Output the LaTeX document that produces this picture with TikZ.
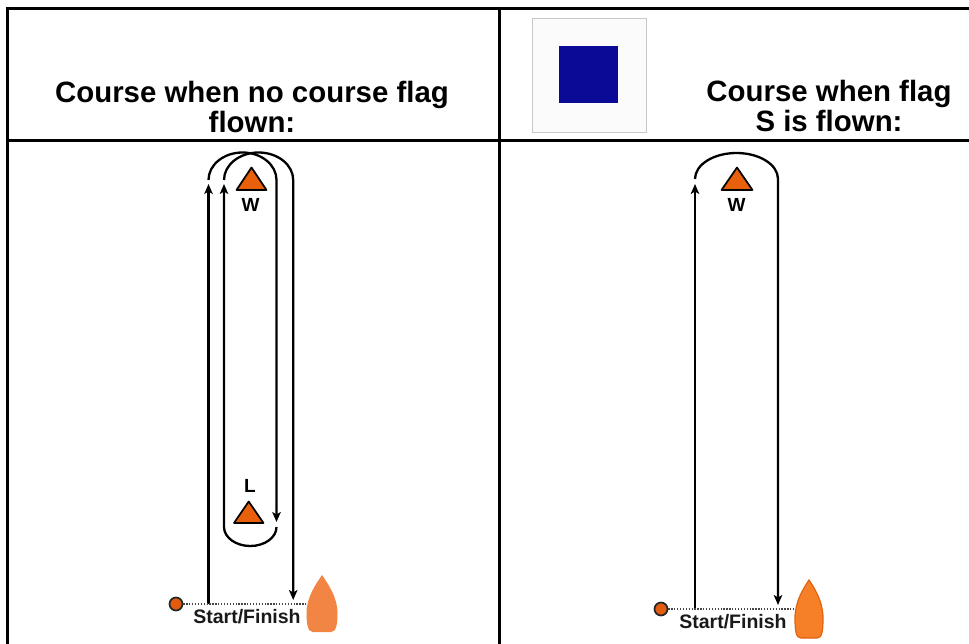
\documentclass[tikz,border=0pt]{standalone}
\usepackage{fontspec}
\setmainfont{Liberation Sans}
\usetikzlibrary{arrows.meta}
\definecolor{markor}{RGB}{232,96,12}
\definecolor{boatA}{RGB}{242,132,68}
\definecolor{boatB}{RGB}{246,128,40}
\definecolor{boatBline}{RGB}{226,98,14}
\definecolor{pinor}{RGB}{226,92,16}
\definecolor{flagblue}{RGB}{10,10,150}
\definecolor{flagbg}{RGB}{251,251,251}
\definecolor{flagedge}{RGB}{200,200,200}
\definecolor{dotgray}{RGB}{70,70,70}
\begin{document}
\begin{tikzpicture}[x=1pt,y=-1pt,
  frame/.style={line width=3pt,black},
  course/.style={line width=2.3pt,black},
  arr/.style={-{Stealth[length=10pt,width=8.5pt,inset=2.5pt]}},
  markstyle/.style={fill=markor,draw=black,line width=1.7pt,line join=round},
  pin/.style={circle,fill=pinor,draw=black!85,line width=1.7pt,minimum size=13pt,inner sep=0pt},
  startline/.style={dotgray,line width=1.5pt,dash pattern=on 1.3pt off 1.6pt},
  head/.style={font=\bfseries\fontsize{29.4}{30}\selectfont,anchor=base,inner sep=0pt},
  marklabel/.style={font=\bfseries\fontsize{19}{19}\selectfont,anchor=base,inner sep=0pt},
  sflabel/.style={font=\bfseries\fontsize{19.5}{19.5}\selectfont,anchor=base,inner sep=0pt,text=black!90}]
\useasboundingbox (0,0) rectangle (969,644);
% table frame
\draw[frame] (5.5,9) -- (969,9);
\draw[frame] (7,9) -- (7,644);
\draw[frame] (7,141) -- (969,141);
\draw[frame] (499,9) -- (499,644);
% headers
\node[head] (h1) at (252,102.5) {Course when no course flag};
\node[head] (h2) at (252,132.5) {flown:};
\node[head] (h3) at (829,101.5) {Course when flag};
\node[head] (h4) at (829,131.5) {S is flown:};
% flag S
\draw[fill=flagbg,draw=flagedge,line width=0.8pt] (532,18) rectangle (646,132);
\fill[flagblue] (559,46) rectangle (618,103);
% ---------- left course ----------
\coordinate (sA) at (208.5,604);
\coordinate (tA) at (208.5,184);
\draw[course,arr] (sA) -- (tA);
\draw[course,arr] (208.5,180) .. controls (208.5,164.8) and (223.7,152.5) .. (242.5,152.5)
   .. controls (261.3,152.5) and (276.5,164.8) .. (276.5,180) -- (276.5,522);
\draw[course,arr] (276.5,527) .. controls (276.5,537.5) and (264.7,546) .. (250.3,546)
   .. controls (235.8,546) and (224,537.5) .. (224,527) -- (224,184);
\draw[course,arr] (224,180) .. controls (224,164.8) and (239.5,152.5) .. (258.6,152.5)
   .. controls (277.7,152.5) and (293.2,164.8) .. (293.2,180) -- (293.2,600);
% marks
\draw[markstyle] (251.5,167.5) -- (266.5,190) -- (236.5,190) -- cycle;
\node[marklabel] (wl) at (250.5,212) {W};
\draw[markstyle] (248.7,501.5) -- (263.5,523) -- (234,523) -- cycle;
\node[marklabel] (ll) at (250,492.5) {L};
% start line
\node[pin] (pinA) at (176,604) {};
\coordinate (boatAend) at (307,604);
\draw[startline] (pinA.east) -- (boatAend);
\node[sflabel] (sfA) at (247,623) {Start/Finish};
\begin{scope}[shift={(322,575)}]
\fill[boatA] (0,0) .. controls (6,9) and (15.5,22) .. (15.5,38) .. controls (15.5,50) and (14,57) .. (9,57)
  -- (-9,57) .. controls (-14,57) and (-15.5,50) .. (-15.5,38) .. controls (-15.5,22) and (-6,9) .. (0,0) -- cycle;
\end{scope}
% ---------- right course ----------
\coordinate (sB) at (695,609);
\coordinate (tB) at (695,184);
\draw[course,arr] (sB) -- (tB);
\draw[course,arr] (695,179) .. controls (695,164.6) and (713.6,153) .. (736.5,153)
   .. controls (759.4,153) and (778,164.6) .. (778,179) -- (778,605);
\draw[markstyle] (737,167.5) -- (752.5,190) -- (721.5,190) -- cycle;
\node[marklabel] (wr) at (736.7,212) {W};
\node[pin] (pinB) at (661,609) {};
\coordinate (boatBend) at (795,609);
\draw[startline] (pinB.east) -- (boatBend);
\node[sflabel] (sfB) at (733,628) {Start/Finish};
\begin{scope}[shift={(809,580)}]
\draw[fill=boatB,draw=boatBline,line width=1.2pt] (0,0) .. controls (6,9) and (14,22) .. (14,38) .. controls (14,51) and (13,58) .. (8,58)
  -- (-8,58) .. controls (-13,58) and (-14,51) .. (-14,38) .. controls (-14,22) and (-6,9) .. (0,0) -- cycle;
\end{scope}
\end{tikzpicture}
\end{document}
